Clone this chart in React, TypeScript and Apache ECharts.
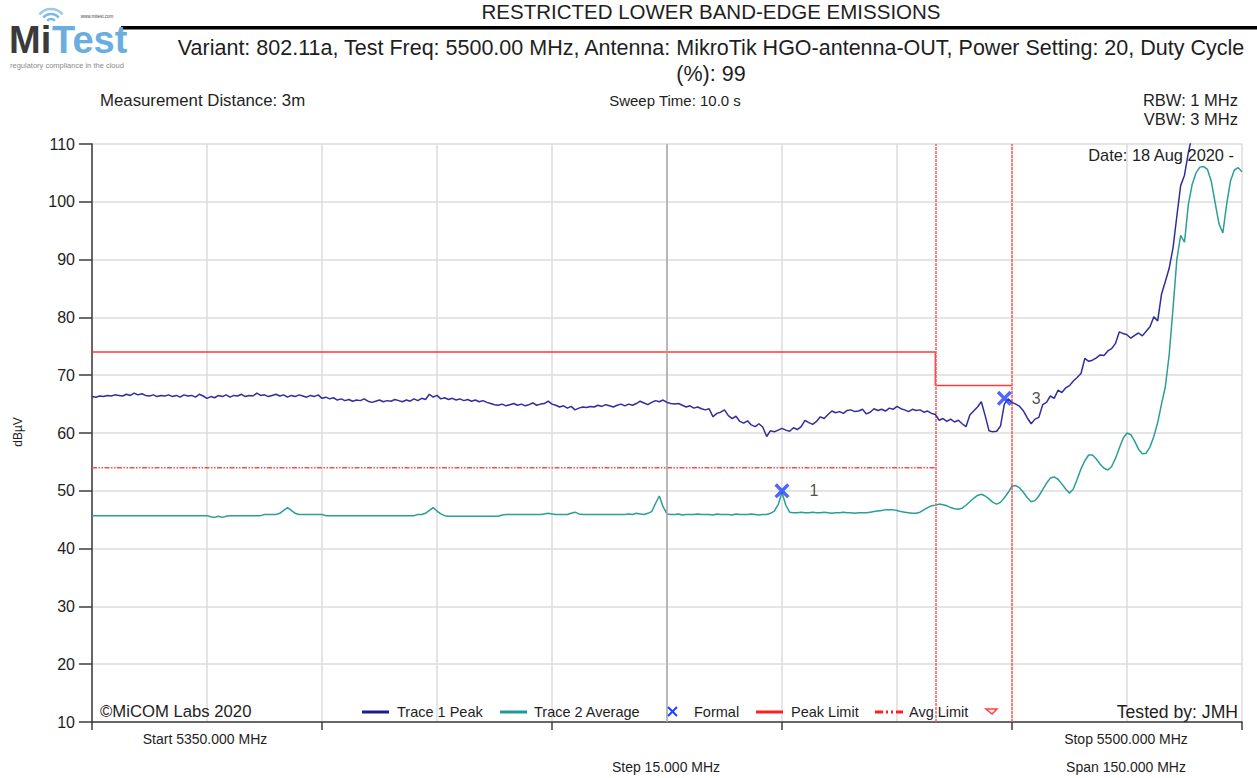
import React, { useEffect, useRef } from "react";
import * as echarts from "echarts";

// ---------- DATA ----------
const START_FREQ = 5350; // MHz
const STOP_FREQ = 5500; // MHz
const TRACE_STEP = 0.5; // MHz between trace samples

// Trace 1 Peak (dBµV), 0.5 MHz steps from 5350 to 5500 MHz
const peakTrace = [
  66.3, 66.2, 66.4, 66.3, 66.5, 66.4, 66.6, 66.5, 66.4, 66.7, 66.5, 66.9, 66.6, 66.8, 66.5, 66.4, 66.6, 66.3, 66.5, 66.4,
  66.6, 66.3, 66.5, 66.2, 66.6, 66.4, 66.5, 66.2, 66.7, 66.4, 66.0, 66.3, 66.1, 66.5, 66.3, 66.6, 66.2, 66.5, 66.4, 66.7,
  66.3, 66.5, 66.4, 66.9, 66.5, 66.6, 66.3, 66.5, 66.7, 66.4, 66.6, 66.2, 66.5, 66.3, 66.6, 66.4, 66.2, 66.5, 66.3, 66.6,
  66.0, 66.2, 65.9, 66.1, 65.7, 65.9, 65.6, 65.8, 65.5, 65.7, 65.6, 65.9, 65.5, 65.3, 65.5, 65.7, 65.4, 65.6, 65.5, 65.8,
  65.6, 65.4, 65.7, 65.5, 65.9, 65.6, 66.0, 65.8, 66.7, 66.2, 66.5, 65.9, 66.1, 65.8, 66.0, 65.7, 65.9, 65.6, 65.8, 65.5,
  65.7, 65.4, 65.6, 65.3, 65.1, 64.9, 64.8, 65.0, 64.7, 64.9, 65.1, 64.8, 65.0, 64.7, 64.9, 65.2, 64.8, 65.0, 65.1, 65.5,
  65.0, 64.8, 64.5, 64.7, 64.3, 64.6, 64.0, 64.3, 64.5, 64.4, 64.6, 64.5, 64.8, 64.6, 64.9, 64.7, 64.5, 64.8, 65.0, 64.7,
  65.0, 64.8, 65.1, 65.5, 65.2, 64.9, 65.3, 65.6, 65.4, 65.7, 65.3, 65.1, 65.0, 65.1, 64.8, 64.5, 64.7, 64.3, 64.5, 64.2,
  64.0, 64.2, 62.8, 63.4, 63.6, 64.0, 63.0, 62.5, 62.9, 62.0, 61.7, 62.1, 61.4, 61.1, 61.6, 61.0, 59.4, 60.4, 60.2, 60.5,
  60.8, 60.5, 60.3, 60.9, 60.6, 61.1, 62.2, 61.8, 61.5, 62.0, 62.8, 62.5, 63.2, 63.8, 63.5, 63.7, 63.4, 63.9, 64.0, 63.7,
  63.8, 64.1, 63.3, 63.6, 64.2, 63.9, 64.1, 63.8, 64.3, 64.1, 64.6, 64.2, 64.0, 63.7, 64.1, 63.9, 64.0, 63.6, 63.8, 63.4,
  63.2, 62.2, 62.5, 62.0, 62.4, 61.9, 62.2, 61.6, 61.1, 63.1, 63.8, 64.5, 65.4, 63.0, 60.4, 60.2, 60.3, 61.2, 65.0, 65.9,
  65.3, 65.0, 64.6, 63.8, 62.6, 61.6, 62.4, 62.7, 64.9, 65.3, 66.4, 66.0, 67.4, 67.0, 67.8, 68.2, 69.0, 69.6, 70.3, 72.9,
  72.4, 72.6, 73.0, 73.5, 73.4, 74.2, 74.6, 75.5, 77.5, 77.2, 77.0, 76.4, 76.9, 77.3, 76.8, 77.6, 78.4, 80.1, 79.4, 84.0,
  86.2, 88.5, 92.0, 97.5, 102.8, 104.6, 108.5, 111.5, 113.0, 114.0, 115.0, 115.5, 116.0, 116.0, 116.5, 116.5, 117.0, 117.0, 117.0, 117.5,
  117.5,
];

// Trace 2 Average (dBµV), 0.5 MHz steps from 5350 to 5500 MHz
const avgTrace = [
  45.7, 45.7, 45.7, 45.7, 45.7, 45.7, 45.7, 45.7, 45.7, 45.7, 45.7, 45.7, 45.7, 45.7, 45.7, 45.7, 45.7, 45.7, 45.7, 45.7,
  45.7, 45.7, 45.7, 45.7, 45.7, 45.7, 45.7, 45.7, 45.7, 45.7, 45.7, 45.5, 45.4, 45.6, 45.4, 45.6, 45.7, 45.7, 45.7, 45.7,
  45.7, 45.7, 45.7, 45.7, 45.7, 45.9, 45.9, 45.9, 45.9, 46.1, 46.6, 47.1, 46.6, 46.1, 45.9, 45.9, 45.9, 45.9, 45.9, 45.9,
  45.9, 45.7, 45.7, 45.7, 45.7, 45.7, 45.7, 45.7, 45.7, 45.7, 45.7, 45.7, 45.7, 45.7, 45.7, 45.7, 45.7, 45.7, 45.7, 45.7,
  45.7, 45.7, 45.7, 45.7, 45.7, 45.9, 45.9, 46.1, 46.6, 47.1, 46.5, 46.0, 45.7, 45.6, 45.6, 45.6, 45.6, 45.6, 45.6, 45.6,
  45.6, 45.6, 45.6, 45.6, 45.6, 45.6, 45.6, 45.8, 45.9, 45.9, 45.9, 45.9, 45.9, 45.9, 45.9, 45.9, 45.9, 45.9, 46.0, 46.1,
  46.0, 45.9, 45.9, 45.9, 45.9, 46.1, 46.3, 46.0, 45.9, 45.9, 45.9, 45.9, 45.9, 45.9, 45.9, 45.9, 45.9, 45.9, 45.9, 45.9,
  46.0, 45.9, 46.1, 46.0, 45.9, 46.1, 46.4, 47.8, 49.1, 47.2, 46.0, 45.9, 45.9, 46.0, 45.8, 45.9, 45.9, 45.9, 46.0, 45.9,
  45.9, 45.9, 45.8, 46.0, 45.9, 45.9, 45.9, 45.8, 46.0, 45.9, 45.9, 45.9, 46.0, 45.9, 45.8, 45.9, 45.9, 46.1, 46.5, 47.6,
  49.7, 47.5, 46.3, 46.2, 46.2, 46.3, 46.2, 46.2, 46.3, 46.2, 46.2, 46.3, 46.2, 46.1, 46.2, 46.2, 46.3, 46.2, 46.2, 46.1,
  46.2, 46.2, 46.2, 46.3, 46.4, 46.5, 46.6, 46.7, 46.7, 46.7, 46.6, 46.4, 46.3, 46.2, 46.1, 46.1, 46.3, 46.7, 47.1, 47.4,
  47.5, 47.7, 47.6, 47.4, 47.1, 46.9, 46.8, 47.0, 47.5, 48.1, 48.7, 49.2, 49.4, 49.1, 48.6, 48.0, 47.7, 48.0, 48.8, 49.7,
  50.8, 50.9, 50.5, 49.7, 48.8, 48.1, 48.3, 49.1, 50.2, 51.3, 52.2, 52.4, 52.0, 51.2, 50.3, 49.6, 50.3, 52.0, 53.8, 55.2,
  56.2, 56.2, 55.5, 54.6, 53.9, 53.6, 54.2, 55.6, 57.4, 59.1, 60.0, 59.7, 58.6, 57.2, 56.4, 56.5, 57.6, 59.4, 61.8, 65.0,
  68.0, 73.5, 81.5, 90.0, 94.2, 93.0, 99.5, 103.0, 105.0, 106.0, 106.1, 105.6, 103.5, 99.8, 96.2, 94.6, 99.6, 103.6, 105.5, 105.9,
  105.2,
];

const peakLimitFreq = [5350, 5460, 5460, 5470];
const peakLimitVal = [74, 74, 68.2, 68.2];
const avgLimitFreq = [5350, 5460];
const avgLimitVal = [54, 54];
const bandEdgeFreq = [5460, 5470];
const centerFreq = 5425;
const markerFreq = [5440, 5469];
const markerVal = [50, 66];
const markerName = ["1", "3"];

const yMin = 10;
const yMax = 110;
const yStep = 10;
const gridStep = 15; // MHz
const tickStep = 30; // MHz

const titleText = "RESTRICTED LOWER BAND-EDGE EMISSIONS";
const subtitle1 =
  "Variant: 802.11a, Test Freq: 5500.00 MHz, Antenna: MikroTik HGO-antenna-OUT, Power Setting: 20, Duty Cycle";
const subtitle2 = "(%): 99";

// ---------- STYLE ----------
const FONT = "'Liberation Sans', Arial, sans-serif";
const NARROW = "'Liberation Sans Narrow', 'Liberation Sans', Arial, sans-serif";
const PEAK_COLOR = "#2f2f9c";
const AVG_COLOR = "#2a9e98";
const LIMIT_COLOR = "#ff3838";
const MARK_COLOR = "#1f40ff";
const TEXT = "#1e1e1e";

const X_SYMBOL =
  "path://M0,1.6L1.6,0L5,3.4L8.4,0L10,1.6L6.6,5L10,8.4L8.4,10L5,6.6L1.6,10L0,8.4L3.4,5Z";

const rel = (f: number) => f - START_FREQ;

export default function App() {
  const ref = useRef<HTMLDivElement>(null);

  useEffect(() => {
    if (!ref.current) return;
    const chart = echarts.init(ref.current, undefined, { renderer: "svg" });

    const peakData = peakTrace.map((v, i) => [i * TRACE_STEP, v]);
    const avgData = avgTrace.map((v, i) => [i * TRACE_STEP, v]);
    const peakLimitData = peakLimitFreq.map((f, i) => [rel(f), peakLimitVal[i]]);
    const avgLimitData = avgLimitFreq.map((f, i) => [rel(f), avgLimitVal[i]]);
    const markerData = markerFreq.map((f, i) => ({ value: [rel(f), markerVal[i]], name: markerName[i] }));

    const txt = (
      text: string,
      x: number,
      y: number,
      size: number,
      align: string = "left",
      family: string = FONT,
      fill: string = TEXT,
      extra: any = {}
    ) => ({
      type: "text",
      x,
      y,
      z: 100,
      style: { text, fontSize: size, fontFamily: family, fill, align, verticalAlign: "middle", ...extra },
    });

    const LEG_Y = 712;
    const LEG_FS = 14.5;
    const graphic: any[] = [
      // logo
      txt("Mi", 9, 40, 38, "left", FONT, "#3a3a3a", { fontWeight: "bold" }),
      txt("Test", 52, 40, 38, "left", FONT, "#6aaee0", { fontWeight: "bold" }),
      txt("regulatory compliance in the cloud", 10, 65.5, 7.5, "left", FONT, "#8a8a8a"),
      txt("www.mitest.com", 97, 16.5, 4.5, "center", FONT, "#444"),
      { type: "arc", shape: { cx: 51, cy: 24, r: 5, startAngle: -Math.PI * 0.78, endAngle: -Math.PI * 0.22 }, style: { stroke: "#7db8e6", lineWidth: 2.5, fill: "none" } },
      { type: "arc", shape: { cx: 51, cy: 24, r: 10, startAngle: -Math.PI * 0.78, endAngle: -Math.PI * 0.22 }, style: { stroke: "#7db8e6", lineWidth: 2.5, fill: "none" } },
      { type: "arc", shape: { cx: 51, cy: 24, r: 15, startAngle: -Math.PI * 0.78, endAngle: -Math.PI * 0.22 }, style: { stroke: "#9cc9ec", lineWidth: 2.5, fill: "none" } },
      { type: "rect", shape: { x: 121, y: 26, width: 1136, height: 3.5 }, style: { fill: "#000" } },
      // titles
      txt(titleText, 711, 11.5, 20.5, "center"),
      txt(subtitle1, 711, 48, 21.5, "center"),
      txt(subtitle2, 711, 74, 21.5, "center"),
      txt("Measurement Distance: 3m", 100, 100, 16.8, "left", NARROW),
      txt("Sweep Time: 10.0 s", 675, 100, 15, "center", NARROW),
      txt("RBW: 1 MHz", 1238, 100, 16.5, "right", NARROW),
      txt("VBW: 3 MHz", 1238, 119, 16.5, "right", NARROW),
      txt("Date: 18 Aug 2020 -", 1234, 155, 16.4, "right", NARROW),
      txt("©MiCOM Labs 2020", 100, 711, 16.7, "left", NARROW),
      txt("Tested by: JMH", 1238, 712, 17.6, "right", NARROW),
      txt("Start 5350.000 MHz", 205, 739, 14, "center", NARROW),
      txt("Stop 5500.000 MHz", 1126, 739, 14, "center", NARROW),
      txt("Step 15.000 MHz", 666, 767, 14, "center", NARROW),
      txt("Span 150.000 MHz", 1126, 767, 14, "center", NARROW),
      {
        type: "text",
        x: 18,
        y: 432,
        rotation: Math.PI / 2,
        style: { text: "dBµV", fontSize: 12, fontFamily: FONT, fill: TEXT, align: "center", verticalAlign: "middle" },
      },
      // legend
      { type: "line", shape: { x1: 362, y1: LEG_Y, x2: 389, y2: LEG_Y }, style: { stroke: "#1c1c8c", lineWidth: 3 }, z: 100 },
      txt("Trace 1 Peak", 397, LEG_Y, LEG_FS, "left", NARROW),
      { type: "line", shape: { x1: 500, y1: LEG_Y, x2: 527, y2: LEG_Y }, style: { stroke: "#1b9b95", lineWidth: 3 }, z: 100 },
      txt("Trace 2 Average", 534, LEG_Y, LEG_FS, "left", NARROW),
      { type: "line", shape: { x1: 668, y1: LEG_Y - 5, x2: 677, y2: LEG_Y + 4 }, style: { stroke: MARK_COLOR, lineWidth: 2 }, z: 100 },
      { type: "line", shape: { x1: 677, y1: LEG_Y - 5, x2: 668, y2: LEG_Y + 4 }, style: { stroke: MARK_COLOR, lineWidth: 2 }, z: 100 },
      txt("Formal", 694, LEG_Y, LEG_FS, "left", NARROW),
      { type: "line", shape: { x1: 756, y1: LEG_Y, x2: 783, y2: LEG_Y }, style: { stroke: "#ff1f1f", lineWidth: 3 }, z: 100 },
      txt("Peak Limit", 791, LEG_Y, LEG_FS, "left", NARROW),
      { type: "line", shape: { x1: 875, y1: LEG_Y, x2: 903, y2: LEG_Y }, style: { stroke: "#ff1f1f", lineWidth: 3, lineDash: [8, 3, 2, 3, 2, 3] }, z: 100 },
      txt("Avg Limit", 909, LEG_Y, LEG_FS, "left", NARROW),
      { type: "polygon", shape: { points: [[986, LEG_Y - 3], [997, LEG_Y - 3], [992, LEG_Y + 2]] }, style: { stroke: "#ff4040", lineWidth: 1.5, fill: "none" }, z: 100 },
    ];

    const option: any = {
      animation: false,
      backgroundColor: "#ffffff",
      grid: { left: 92, right: 15, top: 144, bottom: 56, containLabel: false, outerBoundsMode: "none" },
      xAxis: [
        {
          type: "value",
          min: 0,
          max: STOP_FREQ - START_FREQ,
          interval: gridStep,
          position: "bottom",
          axisLine: { show: false },
          axisTick: { show: false },
          axisLabel: { show: false },
          splitLine: { show: true, lineStyle: { color: "#dcdcdc", width: 1.5 } },
        },
        {
          type: "value",
          min: 0,
          max: STOP_FREQ - START_FREQ,
          interval: tickStep,
          position: "bottom",
          axisLine: { show: true, onZero: false, lineStyle: { color: "#3c3c3c", width: 1.5 } },
          axisTick: { show: true, length: 8, lineStyle: { color: "#3c3c3c", width: 1.5 } },
          axisLabel: { show: false },
          splitLine: { show: false },
        },
      ],
      yAxis: {
        type: "value",
        min: yMin,
        max: yMax,
        interval: yStep,
        axisLine: { show: true, lineStyle: { color: "#3c3c3c", width: 1.5 } },
        axisTick: { show: true, length: 13, lineStyle: { color: "#3c3c3c", width: 1.5 } },
        axisLabel: { fontSize: 16, fontFamily: FONT, color: TEXT, margin: 17 },
        splitLine: { show: true, lineStyle: { color: "#dcdcdc", width: 1.5 } },
      },
      graphic,
      series: [
        {
          name: "Grid marks",
          type: "line",
          data: [],
          silent: true,
          markLine: {
            symbol: "none",
            silent: true,
            label: { show: false },
            data: [
              { xAxis: rel(centerFreq), lineStyle: { color: "#a8a8a8", width: 1.5, type: "solid" } },
              ...bandEdgeFreq.map((f) => ({
                xAxis: rel(f),
                lineStyle: { color: "#ff5a5a", width: 1.5, type: [3, 1] },
              })),
            ],
          },
        },
        {
          name: "Peak Limit",
          type: "line",
          data: peakLimitData,
          symbol: "none",
          lineStyle: { color: LIMIT_COLOR, width: 1.5 },
          z: 3,
        },
        {
          name: "Avg Limit",
          type: "line",
          data: avgLimitData,
          symbol: "none",
          lineStyle: { color: "#ff4a4a", width: 1.5, type: [5, 1.5, 1.5, 1.5, 1.5, 1.5] },
          z: 3,
        },
        {
          name: "Trace 2 Average",
          type: "line",
          data: avgData,
          symbol: "none",
          lineStyle: { color: AVG_COLOR, width: 1.5 },
          z: 4,
        },
        {
          name: "Trace 1 Peak",
          type: "line",
          data: peakData,
          symbol: "none",
          lineStyle: { color: PEAK_COLOR, width: 1.5 },
          z: 5,
        },
        {
          name: "Formal",
          type: "scatter",
          data: markerData,
          symbol: X_SYMBOL,
          symbolSize: 15,
          itemStyle: { color: MARK_COLOR },
          label: {
            show: true,
            position: "right",
            distance: 20,
            formatter: (p: any) => p.name,
            fontSize: 16,
            fontFamily: FONT,
            color: TEXT,
          },
          z: 6,
        },
      ],
    };

    chart.setOption(option);
    return () => chart.dispose();
  }, []);

  return (
    <div
      ref={ref}
      style={{ position: "fixed", left: 0, top: 0, width: 1257, height: 778, background: "#fff" }}
    />
  );
}
